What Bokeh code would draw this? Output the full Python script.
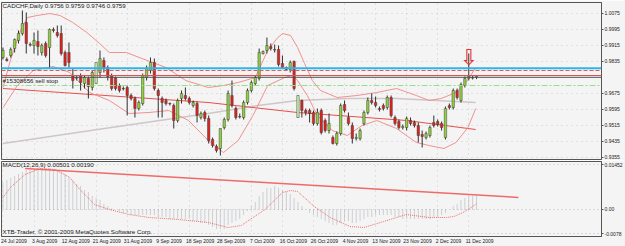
from bokeh.plotting import figure
from bokeh.layouts import column
from bokeh.models import (ColumnDataSource, FixedTicker, Range1d, Label, Span, Grid,
                          CustomJSTickFormatter, NumeralTickFormatter)
from bokeh.embed import file_html
from bokeh.resources import INLINE
from bokeh.core.properties import value

# ---------------- data ----------------
title_text = "CADCHF,Daily  0.9756 0.9759 0.9746 0.9759"
order_text = "#15308656 sell stop"
macd_text = "MACD(12,26,9) 0.00501 0.00190"
copy_text = "XTB-Trader, \u00a9 2001-2009 MetaQuotes Software Corp."

date_labels = ["24 Jul 2009", "3 Aug 2009", "12 Aug 2009", "21 Aug 2009", "31 Aug 2009",
               "9 Sep 2009", "18 Sep 2009", "28 Sep 2009", "7 Oct 2009", "16 Oct 2009",
               "26 Oct 2009", "4 Nov 2009", "13 Nov 2009", "23 Nov 2009", "2 Dec 2009",
               "11 Dec 2009"]
date_bars = [0, 8, 16, 24, 32, 40, 48, 56, 64, 72, 80, 88, 96, 104, 112, 120]

price_ticks = [0.9355, 0.9435, 0.9515, 0.9595, 0.9675, 0.9835, 0.9915, 0.9995, 1.0075]
macd_ticks = [-0.0078, 0.0, 0.01452]
macd_tick_labels = ["-0.0078", "0.00", "0.01452"]

opens = [0.9854, 0.9844, 0.9864, 0.9899, 0.9939, 0.9974, 1.0029, 0.9919, 0.9914, 0.9934,
         0.9879, 0.9924, 0.9904, 0.9994, 0.9979, 0.9974, 0.9879, 0.9879, 0.9764, 0.9754,
         0.9764, 0.9724, 0.9749, 0.9704, 0.9724, 0.9779, 0.9839, 0.9804, 0.9764, 0.9754,
         0.9714, 0.9699, 0.9704, 0.9664, 0.9649, 0.9599, 0.9624, 0.9754, 0.9789, 0.9829,
         0.9689, 0.9649, 0.9639, 0.9624, 0.9614, 0.9539, 0.9649, 0.9664, 0.9649, 0.9614,
         0.9624, 0.9554, 0.9579, 0.9549, 0.9444, 0.9409, 0.9399, 0.9504, 0.9544, 0.9664,
         0.9599, 0.9559, 0.9554, 0.9629, 0.9689, 0.9724, 0.9749, 0.9874, 0.9889, 0.9909,
         0.9894, 0.9894, 0.9824, 0.9804, 0.9794, 0.9834, 0.9554, 0.9639, 0.9589, 0.9589,
         0.9579, 0.9524, 0.9589, 0.9539, 0.9489, 0.9454, 0.9424, 0.9474, 0.9619, 0.9554,
         0.9514, 0.9449, 0.9449, 0.9524, 0.9579, 0.9639, 0.9629, 0.9599, 0.9614, 0.9604,
         0.9654, 0.9554, 0.9534, 0.9504, 0.9504, 0.9539, 0.9529, 0.9514, 0.9469, 0.9454,
         0.9464, 0.9529, 0.9534, 0.9524, 0.9454, 0.9614, 0.9604, 0.9689, 0.9639, 0.9714,
         0.9749, 0.9754, 0.9756]
highs = [0.9904, 0.9854, 0.9904, 0.9949, 0.9989, 1.0089, 1.0079, 0.9929, 0.9979, 0.9989,
         0.9924, 0.9934, 0.9999, 1.0004, 1.0014, 1.0014, 0.9889, 0.9929, 0.9799, 0.9764,
         0.9774, 0.9764, 0.9759, 0.9789, 0.9829, 0.9889, 0.9854, 0.9814, 0.9774, 0.9759,
         0.9724, 0.9709, 0.9714, 0.9674, 0.9659, 0.9639, 0.9774, 0.9814, 0.9854, 0.9849,
         0.9699, 0.9659, 0.9649, 0.9629, 0.9624, 0.9649, 0.9689, 0.9704, 0.9659, 0.9639,
         0.9634, 0.9584, 0.9589, 0.9564, 0.9454, 0.9419, 0.9499, 0.9554, 0.9689, 0.9739,
         0.9609, 0.9574, 0.9639, 0.9699, 0.9739, 0.9764, 0.9899, 0.9889, 0.9954, 0.9924,
         0.9919, 0.9914, 0.9864, 0.9809, 0.9839, 0.9839, 0.9664, 0.9644, 0.9599, 0.9599,
         0.9589, 0.9599, 0.9599, 0.9549, 0.9574, 0.9464, 0.9484, 0.9624, 0.9639, 0.9579,
         0.9529, 0.9474, 0.9499, 0.9589, 0.9654, 0.9674, 0.9659, 0.9609, 0.9624, 0.9664,
         0.9664, 0.9564, 0.9544, 0.9519, 0.9559, 0.9554, 0.9539, 0.9529, 0.9489, 0.9484,
         0.9514, 0.9564, 0.9544, 0.9534, 0.9609, 0.9624, 0.9699, 0.9699, 0.9729, 0.9759,
         0.9874, 0.9764, 0.9759]
lows = [0.9844, 0.9834, 0.9854, 0.9879, 0.9924, 0.9964, 0.9874, 0.9909, 0.9874, 0.9864,
        0.9864, 0.9854, 0.9804, 0.9979, 0.9954, 0.9864, 0.9809, 0.9804, 0.9699, 0.9739,
        0.9689, 0.9699, 0.9649, 0.9689, 0.9724, 0.9754, 0.9779, 0.9739, 0.9689, 0.9689,
        0.9679, 0.9689, 0.9564, 0.9639, 0.9554, 0.9589, 0.9614, 0.9739, 0.9774, 0.9689,
        0.9554, 0.9554, 0.9614, 0.9614, 0.9499, 0.9529, 0.9624, 0.9639, 0.9619, 0.9604,
        0.9529, 0.9544, 0.9534, 0.9424, 0.9404, 0.9379, 0.9364, 0.9494, 0.9534, 0.9604,
        0.9544, 0.9549, 0.9544, 0.9619, 0.9679, 0.9714, 0.9739, 0.9869, 0.9874, 0.9889,
        0.9879, 0.9809, 0.9799, 0.9789, 0.9779, 0.9689, 0.9554, 0.9554, 0.9564, 0.9529,
        0.9514, 0.9514, 0.9469, 0.9479, 0.9474, 0.9419, 0.9414, 0.9464, 0.9579, 0.9514,
        0.9424, 0.9439, 0.9439, 0.9514, 0.9569, 0.9619, 0.9604, 0.9584, 0.9589, 0.9594,
        0.9554, 0.9514, 0.9494, 0.9494, 0.9489, 0.9514, 0.9504, 0.9429, 0.9404, 0.9444,
        0.9454, 0.9504, 0.9509, 0.9489, 0.9444, 0.9594, 0.9594, 0.9644, 0.9629, 0.9704,
        0.9739, 0.9744, 0.9746]
closes = [0.9889, 0.9839, 0.9894, 0.9944, 0.9974, 1.0024, 0.9924, 0.9916, 0.9939, 0.9909,
          0.9914, 0.9864, 0.9994, 0.9989, 0.9964, 0.9874, 0.9814, 0.9829, 0.9739, 0.9751,
          0.9729, 0.9754, 0.9709, 0.9779, 0.9829, 0.9849, 0.9799, 0.9759, 0.9699, 0.9699,
          0.9689, 0.9697, 0.9664, 0.9649, 0.9599, 0.9629, 0.9764, 0.9799, 0.9829, 0.9699,
          0.9664, 0.9629, 0.9624, 0.9622, 0.9539, 0.9639, 0.9674, 0.9649, 0.9629, 0.9629,
          0.9564, 0.9574, 0.9549, 0.9439, 0.9414, 0.9389, 0.9499, 0.9544, 0.9674, 0.9614,
          0.9554, 0.9557, 0.9629, 0.9689, 0.9729, 0.9754, 0.9879, 0.9884, 0.9914, 0.9899,
          0.9891, 0.9819, 0.9804, 0.9794, 0.9829, 0.9699, 0.9664, 0.9589, 0.9579, 0.9574,
          0.9524, 0.9579, 0.9479, 0.9489, 0.9524, 0.9424, 0.9474, 0.9614, 0.9589, 0.9524,
          0.9449, 0.9454, 0.9489, 0.9579, 0.9639, 0.9629, 0.9614, 0.9594, 0.9599, 0.9654,
          0.9564, 0.9524, 0.9504, 0.9509, 0.9549, 0.9524, 0.9514, 0.9464, 0.9459, 0.9474,
          0.9504, 0.9514, 0.9519, 0.9504, 0.9599, 0.9604, 0.9689, 0.9654, 0.9719, 0.9749,
          0.9759, 0.9751, 0.9759]
highlight_bars = [24, 76]

# Bollinger band knots (bar, price)
bb_up_x = [0, 1.9, 4.5, 6.3, 8.8, 12.1, 14.7, 18, 21.6, 24.9, 27.4, 31.8, 35.8, 42, 47.1, 52.9,
           56.8, 60.6, 65, 68.2, 70.8, 72.1, 74.1, 75.9, 77.7, 79.7, 81.8, 86.1, 91.2, 96.3,
           101.4, 106.5, 109.8, 112.9, 116.7, 119.3, 121.8]
bb_up_y = [0.9703, 0.9839, 0.9989, 1.0054, 1.0064, 1.0074, 1.0064, 1.0029, 0.9979, 0.9924,
           0.9879, 0.9879, 0.9849, 0.9804, 0.9739, 0.9704, 0.9714, 0.9729, 0.9754, 0.9889,
           0.9954, 0.9974, 0.9964, 0.9904, 0.9824, 0.9739, 0.9689, 0.9654, 0.9664, 0.9679,
           0.9699, 0.9664, 0.9639, 0.9649, 0.9679, 0.9729, 0.9804]
bb_lo_x = [0, 3.7, 7.8, 12.9, 17.2, 22.3, 27.4, 32.5, 37.6, 42.7, 47.8, 52.9, 56.8, 60.6,
           64.4, 68.2, 72.6, 74.6, 75.9, 78.4, 81, 84.8, 88.7, 92.5, 96.3, 101.4, 106.5,
           109.8, 113.6, 116.7, 119.8, 121.8]
bb_lo_y = [0.9603, 0.9714, 0.9789, 0.9809, 0.9779, 0.9679, 0.9639, 0.9574, 0.9579, 0.9589,
           0.9539, 0.9439, 0.9379, 0.9439, 0.9564, 0.9714, 0.9754, 0.9764, 0.9739, 0.9664,
           0.9564, 0.9489, 0.9464, 0.9514, 0.9539, 0.9499, 0.9429, 0.9414, 0.9399, 0.9429,
           0.9504, 0.9599]
ma_red_x = [0, 52.9, 75.9, 104, 121.8]
ma_red_y = [0.9699, 0.9629, 0.9579, 0.9539, 0.9494]
ma_gray_x = [0, 26.1, 52.9, 65.7, 75.9, 88.7, 101.4, 121.8]
ma_gray_y = [0.9424, 0.9499, 0.9574, 0.9614, 0.9639, 0.9649, 0.9649, 0.9629]

levels = [0.9800, 0.9789, 0.9764, 0.9755, 0.9714]
level_colors = ["#2fb4ea", "#e05a5a", "#e05050", "#505050", "#90e090"]
level_widths = [2, 1, 1, 1, 1]
level_dashes = ["solid", "4 2", "solid", "solid", "6 2 2 2"]

macd = [0.00872, 0.00937, 0.01034, 0.01098, 0.01163, 0.01227, 0.01260, 0.01292, 0.01292, 0.01324,
        0.01324, 0.01324, 0.01324, 0.01292, 0.01260, 0.01195, 0.01131, 0.01034, 0.00937, 0.00840,
        0.00743, 0.00646, 0.00549, 0.00452, 0.00355, 0.00291, 0.00194, 0.00129, 0.00065, 0.0,
        -0.00065, -0.00097, -0.00129, -0.00162, -0.00194, -0.00194, -0.00162, -0.00162, -0.00162, -0.00194,
        -0.00226, -0.00258, -0.00258, -0.00291, -0.00323, -0.00323, -0.00323, -0.00323, -0.00323, -0.00355,
        -0.00388, -0.00420, -0.00452, -0.00517, -0.00581, -0.00646, -0.00646, -0.00614, -0.00517, -0.00452,
        -0.00388, -0.00323, -0.00194, -0.00065, 0.00097, 0.00258, 0.00452, 0.00581, 0.00678, 0.00711,
        0.00743, 0.00711, 0.00646, 0.00581, 0.00485, 0.00355, 0.00226, 0.00097, 0.0, -0.00097,
        -0.00194, -0.00258, -0.00323, -0.00388, -0.00420, -0.00485, -0.00485, -0.00420, -0.00388, -0.00388,
        -0.00420, -0.00420, -0.00388, -0.00323, -0.00258, -0.00226, -0.00194, -0.00194, -0.00194, -0.00162,
        -0.00194, -0.00226, -0.00258, -0.00291, -0.00291, -0.00291, -0.00291, -0.00323, -0.00323, -0.00323,
        -0.00291, -0.00258, -0.00226, -0.00194, -0.00097, 0.0, 0.00097, 0.00194, 0.00291, 0.00355,
        0.00420, 0.00460, 0.00501]
signal_x = [0, 1.9, 5.7, 9.6, 13.4, 17.2, 19.8, 23.6, 27.4, 32.5, 37.6, 45.3, 52.9, 58, 61.4,
            67.5, 72, 74.1, 75.9, 80.2, 84.3, 89.4, 93, 98.1, 103.9, 109.8, 114.2, 116.2, 118.5,
            121, 122]
signal_y = [0.00388, 0.00711, 0.01131, 0.01324, 0.01292, 0.01034, 0.00646, 0.00162, 0.0, -0.00162,
            -0.00258, -0.00323, -0.00420, -0.00581, -0.00517, 0.0, 0.00549, 0.00614, 0.00581, 0.00097,
            -0.00258, -0.00549, -0.00581, -0.00388, -0.00162, -0.00258, -0.00258, -0.00226, -0.00097,
            0.00097, 0.00190]
trend_x = [5.7, 132.8]
trend_y = [0.01324, 0.00388]

arrow_bar = 120
arrow_price = 0.9856

# ---------------- styling ----------------
BG = "#f4f4f4"
FONT = "Liberation Sans"
FS = "5px"
FT = "6.2px"
UP = "#8fd23a"
DN = "#e0201c"
HL = "#c4f2ae"

n = len(opens)
bars = list(range(n))
colors = []
for i in bars:
    if i in highlight_bars:
        colors.append(HL)
    elif closes[i] >= opens[i]:
        colors.append(UP)
    else:
        colors.append(DN)
src = ColumnDataSource(dict(x=bars, o=opens, h=highs, l=lows, c=closes,
                            top=[max(a, b) for a, b in zip(opens, closes)],
                            bot=[min(a, b) for a, b in zip(opens, closes)],
                            col=colors))

xr = Range1d(-0.38, 154.2)

p = figure(width=625, height=160, x_range=xr, y_range=Range1d(0.9344, 1.0129),
           output_backend="svg", toolbar_location=None, x_axis_location=None,
           y_axis_location="right", min_border_left=1, min_border_right=18,
           min_border_top=2, min_border_bottom=1, background_fill_color=BG,
           border_fill_color=BG, outline_line_color="#555555")
p.grid.visible = False
p.add_layout(Grid(dimension=1, ticker=FixedTicker(ticks=price_ticks), grid_line_color="#cccccc",
                  grid_line_dash="1 4"))
p.add_layout(Grid(dimension=0, ticker=FixedTicker(ticks=date_bars), grid_line_color="#cccccc",
                  grid_line_dash="1 4"))

ax = p.yaxis[0]
ax.ticker = FixedTicker(ticks=price_ticks)
ax.formatter = NumeralTickFormatter(format="0.0000")
ax.major_label_text_font = FONT
ax.major_label_text_font_size = FS
ax.major_label_text_color = "#202020"
ax.major_tick_out = 2
ax.major_tick_in = 0
ax.minor_tick_out = 0
ax.minor_tick_in = 0
ax.major_label_standoff = 1
ax.axis_line_color = "#555555"
ax.major_tick_line_color = "#555555"

# moving averages and bands
p.line(ma_gray_x, ma_gray_y, line_color="#cfc6c6", line_width=1.3)
p.line(ma_red_x, ma_red_y, line_color="#e85050", line_width=1.2)
p.line(bb_up_x, bb_up_y, line_color="#f09090", line_width=1)
p.line(bb_lo_x, bb_lo_y, line_color="#f09090", line_width=1)

for lv, lc, lw, ld in zip(levels, level_colors, level_widths, level_dashes):
    p.add_layout(Span(location=lv, dimension="width", line_color=lc, line_width=lw,
                      line_dash=ld))

# candles
p.segment(x0="x", y0="h", x1="x", y1="l", source=src, line_color="#303030", line_width=1)
p.vbar(x="x", top="top", bottom="bot", width=0.62, source=src, fill_color="col",
       line_color="#404040", line_width=0.5)

p.text(x=[-0.1], y=[1.0114], text=[title_text], text_font=value(FONT), text_font_size=FT,
       text_baseline="middle", text_align="left", text_color="#202020")
p.text(x=[-0.1], y=[0.9739], text=[order_text], text_font=value(FONT), text_font_size=FT,
       text_baseline="middle", text_align="left", text_color="#202020")
p.text(x=[arrow_bar], y=[arrow_price], text=["\u21e9"], text_font=value("DejaVu Sans"),
       text_font_size="22px", text_baseline="middle", text_align="center", text_color="#e83030")

# current price labels on the scale
p.add_layout(Label(x=154.2, y=0.9800, x_offset=1, text="0.9800", text_font=FONT,
                   text_font_size=FS, text_color="white", text_baseline="middle",
                   background_fill_color="#2fb4ea"))
p.add_layout(Label(x=154.2, y=0.9759, x_offset=1, text="0.9759", text_font=FONT,
                   text_font_size=FS, text_color="white", text_baseline="middle",
                   background_fill_color="#000000"))

# ---------------- MACD window ----------------
p2 = figure(width=625, height=86, x_range=xr, y_range=Range1d(-0.00872, 0.0155),
            output_backend="svg", toolbar_location=None, y_axis_location="right",
            min_border_left=1, min_border_right=18, min_border_top=1, min_border_bottom=0,
            background_fill_color=BG, border_fill_color=BG, outline_line_color="#555555")
p2.grid.visible = False
p2.add_layout(Grid(dimension=1, ticker=FixedTicker(ticks=macd_ticks), grid_line_color="#c0c0c0",
                   grid_line_dash="1 3"))
p2.add_layout(Grid(dimension=0, ticker=FixedTicker(ticks=date_bars), grid_line_color="#cccccc",
                   grid_line_dash="1 4"))

ay = p2.yaxis[0]
ay.ticker = FixedTicker(ticks=macd_ticks)
ay.formatter = CustomJSTickFormatter(args=dict(labels=macd_tick_labels),
                                     code="return labels[index];")
ax2 = p2.xaxis[0]
ax2.ticker = FixedTicker(ticks=[b + 2.8 for b in date_bars])
ax2.formatter = CustomJSTickFormatter(args=dict(labels=date_labels), code="return labels[index];")
for a in (ay, ax2):
    a.major_label_text_font = FONT
    a.major_label_text_font_size = FS
    a.major_label_text_color = "#202020"
    a.minor_tick_out = 0
    a.minor_tick_in = 0
    a.major_tick_in = 0
    a.major_label_standoff = 1
    a.axis_line_color = "#555555"
    a.major_tick_line_color = "#555555"
ay.major_tick_out = 2
ax2.major_tick_out = 0

msrc = ColumnDataSource(dict(x=bars, m=macd, z=[0.0] * n))
p2.segment(x0="x", y0="z", x1="x", y1="m", source=msrc, line_color="#a4a9b0", line_width=1,
           line_dash="1 1")
p2.line(trend_x, trend_y, line_color="#f06a6a", line_width=1.5)
p2.line(signal_x, signal_y, line_color="#f06a6a", line_width=1, line_dash="1 1")

p2.text(x=[-0.1], y=[0.01453], text=[macd_text], text_font=value(FONT), text_font_size=FT,
        text_baseline="middle", text_align="left", text_color="#202020")
p2.text(x=[-0.1], y=[-0.0071], text=[copy_text], text_font=value(FONT), text_font_size=FT,
        text_baseline="middle", text_align="left", text_color="#202020")

layout = column(p, p2, spacing=0)
open("out.html", "w").write(file_html(layout, INLINE))
